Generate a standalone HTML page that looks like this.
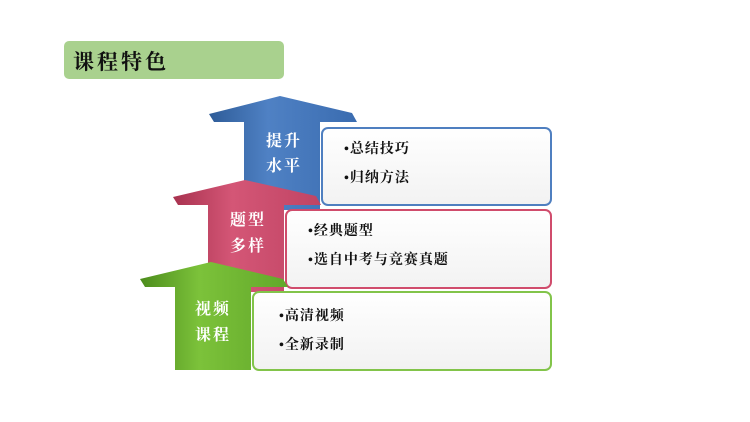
<!DOCTYPE html>
<html><head><meta charset="utf-8"><style>
body{margin:0;width:750px;height:422px;background:#fff;overflow:hidden;font-family:"Liberation Serif","Noto Serif CJK SC",serif}
</style></head><body>
<svg width="750" height="422" viewBox="0 0 750 422" xmlns="http://www.w3.org/2000/svg" style="position:absolute;left:0;top:0">
<defs>
<linearGradient id="gb" x1="0" y1="0" x2="1" y2="0"><stop offset="0" stop-color="#2e5c98"/><stop offset=".4" stop-color="#4f81c4"/><stop offset="1" stop-color="#3a6cb0"/></linearGradient>
<linearGradient id="gp" x1="0" y1="0" x2="1" y2="0"><stop offset="0" stop-color="#a8324f"/><stop offset=".4" stop-color="#d45676"/><stop offset="1" stop-color="#c04464"/></linearGradient>
<linearGradient id="gg" x1="0" y1="0" x2="1" y2="0"><stop offset="0" stop-color="#4c8c1c"/><stop offset=".4" stop-color="#7cc23a"/><stop offset="1" stop-color="#62a82a"/></linearGradient>
<linearGradient id="bx" x1="0" y1="0" x2="0" y2="1"><stop offset="0" stop-color="#fff"/><stop offset="1" stop-color="#f2f2f2"/></linearGradient>
</defs>
<rect x="64" y="41" width="220" height="38" rx="5" fill="#a9d18e"/>
<text x="73" y="69" font-size="21" font-weight="bold" fill="#111" letter-spacing="3">课程特色</text>

<polygon points="280,96 352,113 357,122 320,122 320,210 244,210 244,122 214,122 209,114" fill="url(#gb)"/>
<rect x="322" y="128" width="229" height="77" rx="6" fill="url(#bx)" stroke="#4f7fc0" stroke-width="2"/>
<polygon points="245,180 316,196 321,205 284,205 284,292 208,292 208,205 178,205 173,197" fill="url(#gp)"/>
<rect x="286" y="210" width="265" height="78" rx="6" fill="url(#bx)" stroke="#d04c6c" stroke-width="2"/>
<polygon points="211,262 283,279 288,287 251,287 251,370 175,370 175,287 145,287 140,279" fill="url(#gg)"/>
<rect x="253" y="292" width="298" height="78" rx="6" fill="url(#bx)" stroke="#82c44a" stroke-width="2"/>

<g font-size="16" font-weight="bold" fill="#fff" text-anchor="middle" letter-spacing="2">
<text x="284" y="146">提升</text><text x="284" y="171">水平</text>
<text x="248" y="225">题型</text><text x="248" y="251">多样</text>
<text x="213" y="314">视频</text><text x="213" y="340">课程</text>
</g>
<g font-size="14" font-weight="bold" fill="#111" letter-spacing="1">
<text x="344" y="153">•总结技巧</text><text x="344" y="182">•归纳方法</text>
<text x="308" y="235">•经典题型</text><text x="308" y="264">•选自中考与竞赛真题</text>
<text x="279" y="320">•高清视频</text><text x="279" y="349">•全新录制</text>
</g>
</svg>
</body></html>
